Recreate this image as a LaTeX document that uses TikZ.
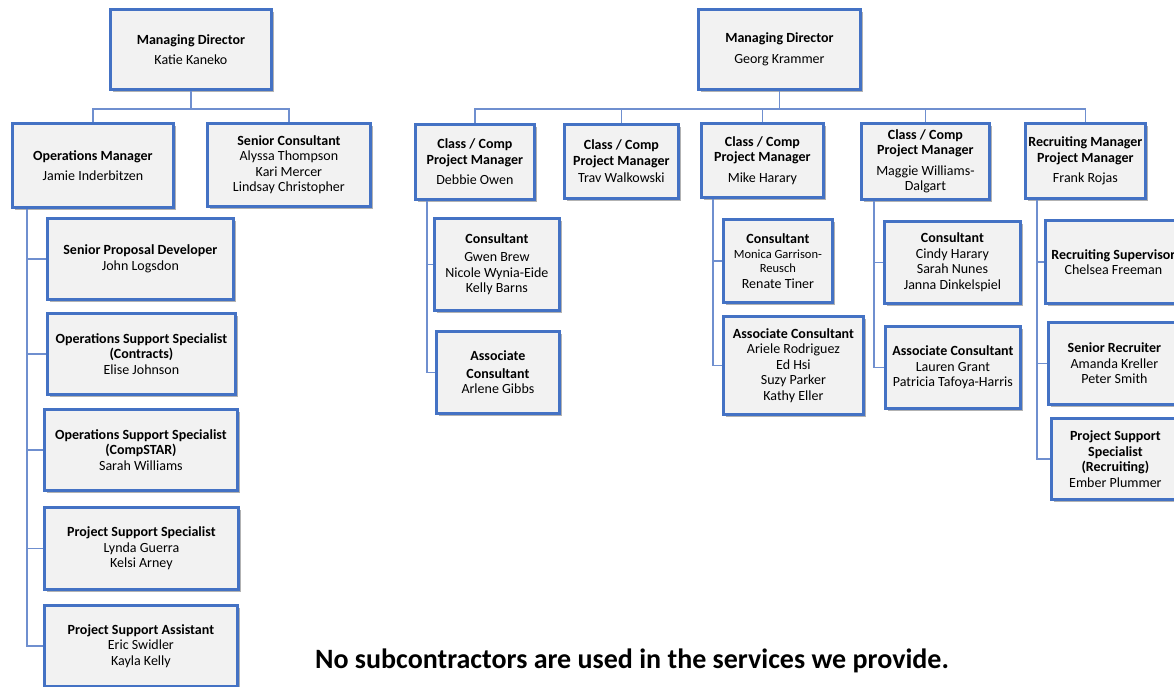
\documentclass[tikz,border=0pt]{standalone}
\usepackage{fontspec}
\setmainfont{Carlito}
\usepackage{xcolor}
\usepackage{tikz}
\usetikzlibrary{shadows}

\definecolor{orgblue}{HTML}{4472C4}
\definecolor{lineblue}{HTML}{6F8FCF}
\definecolor{boxgray}{HTML}{F2F2F2}

\begin{document}
\begin{tikzpicture}[x=1pt, y=1pt]
        % Box and line styles
        \tikzstyle{unit} = [rectangle, draw=orgblue, line width=2.8pt, fill=boxgray, anchor=north west,
                            align=center, inner sep=2pt, font=\fontsize{14}{15.5}\selectfont,
                            drop shadow={shadow xshift=2.5pt, shadow yshift=-2.5pt, fill=black, opacity=0.3}]
        \tikzstyle{link} = [draw=lineblue, line width=1.4pt]

        \useasboundingbox (0,0) rectangle (1174,-686);
        \clip (0,0) rectangle (1174,-686);

        % Left chart
        \node (mdKatie) [unit, minimum width=161pt, minimum height=80pt] at (109,-8) {\textbf{Managing Director}\\[5pt]Katie Kaneko};
        \node (opsMgr) [unit, minimum width=161pt, minimum height=84pt] at (11,-122) {\textbf{Operations Manager}\\[5pt]Jamie Inderbitzen};
        \node (srCons) [unit, minimum width=163pt, minimum height=83pt] at (206,-122) {\textbf{Senior Consultant}\\Alyssa Thompson\\Kari Mercer\\Lindsay Christopher};
        \node (propDev) [unit, minimum width=186pt, minimum height=81pt] at (46,-217) {\textbf{Senior Proposal Developer}\\John Logsdon};
        \node (ossContracts) [unit, minimum width=188pt, minimum height=81pt] at (46,-312) {\textbf{Operations Support Specialist}\\\textbf{(Contracts)}\\Elise Johnson};
        \node (ossCompstar) [unit, minimum width=193pt, minimum height=81pt] at (43,-408) {\textbf{Operations Support Specialist}\\\textbf{(CompSTAR)}\\Sarah Williams};
        \node (pss) [unit, minimum width=194pt, minimum height=82pt] at (43,-506) {\textbf{Project Support Specialist}\\Lynda Guerra\\Kelsi Arney};
        \node (psa) [unit, minimum width=193pt, minimum height=81pt] at (43,-604) {\textbf{Project Support Assistant}\\Eric Swidler\\Kayla Kelly};

        % Right chart
        \node (mdGeorg) [unit, minimum width=162pt, minimum height=80pt] at (697,-8) {\textbf{Managing Director}\\[5pt]Georg Krammer};
        \node (ccDebbie) [unit, minimum width=119pt, minimum height=75pt] at (414,-123) {\textbf{Class / Comp}\\\textbf{Project Manager}\\[5pt]Debbie Owen};
        \node (ccTrav) [unit, minimum width=114pt, minimum height=74pt] at (563,-123) {\textbf{Class / Comp}\\\textbf{Project Manager}\\[2pt]Trav Walkowski};
        \node (ccMike) [unit, minimum width=122pt, minimum height=74pt] at (700,-122) {\textbf{Class / Comp}\\\textbf{Project Manager}\\[5pt]Mike Harary};
        \node (ccMaggie) [unit, minimum width=128pt, minimum height=76pt] at (860,-122) {\textbf{Class / Comp}\\\textbf{Project Manager}\\[5pt]Maggie Williams-\\Dalgart};
        \node (recMgr) [unit, minimum width=120pt, minimum height=75pt] at (1024,-122) {\textbf{Recruiting Manager}\\\textbf{Project Manager}\\[5pt]Frank Rojas};

        \node (consGwen) [unit, minimum width=125pt, minimum height=92pt] at (433,-217) {\textbf{Consultant}\\[3pt]Gwen Brew\\Nicole Wynia-Eide\\Kelly Barns};
        \node (assocArlene) [unit, minimum width=123pt, minimum height=82pt] at (435,-330) {\textbf{Associate}\\[2pt]\textbf{Consultant}\\Arlene Gibbs};
        \node (consMonica) [unit, minimum width=109pt, minimum height=83pt] at (722,-218) {\textbf{Consultant}\\[-1pt]{\fontsize{12.5}{14}\selectfont Monica Garrison-}\\[-1pt]{\fontsize{12.5}{14}\selectfont Reusch}\\Renate Tiner};
        \node (assocAriele) [unit, minimum width=140pt, minimum height=98pt] at (722,-315) {\textbf{Associate Consultant}\\Ariele Rodriguez\\Ed Hsi\\Suzy Parker\\Kathy Eller};
        \node (consCindy) [unit, minimum width=136pt, minimum height=82pt] at (883,-220) {\textbf{Consultant}\\Cindy Harary\\Sarah Nunes\\Janna Dinkelspiel};
        \node (assocLauren) [unit, minimum width=135pt, minimum height=82pt] at (884,-325) {\textbf{Associate Consultant}\\Lauren Grant\\Patricia Tafoya-Harris};
        \node (recSup) [unit, minimum width=136pt, minimum height=83pt] at (1044,-219) {\textbf{Recruiting Supervisor}\\Chelsea Freeman};
        \node (srRec) [unit, minimum width=132pt, minimum height=82pt] at (1047,-321) {\textbf{Senior Recruiter}\\Amanda Kreller\\Peter Smith};
        \node (pssRec) [unit, minimum width=128pt, minimum height=81pt] at (1050,-417) {\textbf{Project Support}\\\textbf{Specialist}\\\textbf{(Recruiting)}\\Ember Plummer};

        % Footer
        \node (note) at (632,-661) {\fontsize{28}{32}\selectfont\bfseries No subcontractors are used in the services we provide.};

        % Links, left chart
        \draw [link] (mdKatie.south) -- ++(0,-18) -| (opsMgr.north);
        \draw [link] (mdKatie.south) -- ++(0,-18) -| (srCons.north);
        \draw [link] ([xshift=16pt]opsMgr.south west) |- (propDev.west);
        \draw [link] ([xshift=16pt]opsMgr.south west) |- (ossContracts.west);
        \draw [link] ([xshift=16pt]opsMgr.south west) |- (ossCompstar.west);
        \draw [link] ([xshift=16pt]opsMgr.south west) |- (pss.west);
        \draw [link] ([xshift=16pt]opsMgr.south west) |- (psa.west);

        % Links, right chart
        \draw [link] (mdGeorg.south) -- ++(0,-18) -| (ccDebbie.north);
        \draw [link] (mdGeorg.south) -- ++(0,-18) -| (ccTrav.north);
        \draw [link] (mdGeorg.south) -- ++(0,-18) -| (ccMike.north);
        \draw [link] (mdGeorg.south) -- ++(0,-18) -| (ccMaggie.north);
        \draw [link] (mdGeorg.south) -- ++(0,-18) -| (recMgr.north);
        \draw [link] ([xshift=13pt]ccDebbie.south west) |- (consGwen.west);
        \draw [link] ([xshift=13pt]ccDebbie.south west) |- (assocArlene.west);
        \draw [link] ([xshift=13pt]ccMike.south west) |- (consMonica.west);
        \draw [link] ([xshift=13pt]ccMike.south west) |- (assocAriele.west);
        \draw [link] ([xshift=14pt]ccMaggie.south west) |- (consCindy.west);
        \draw [link] ([xshift=14pt]ccMaggie.south west) |- (assocLauren.west);
        \draw [link] ([xshift=13pt]recMgr.south west) |- (recSup.west);
        \draw [link] ([xshift=13pt]recMgr.south west) |- (srRec.west);
        \draw [link] ([xshift=13pt]recMgr.south west) |- (pssRec.west);
\end{tikzpicture}
\end{document}
